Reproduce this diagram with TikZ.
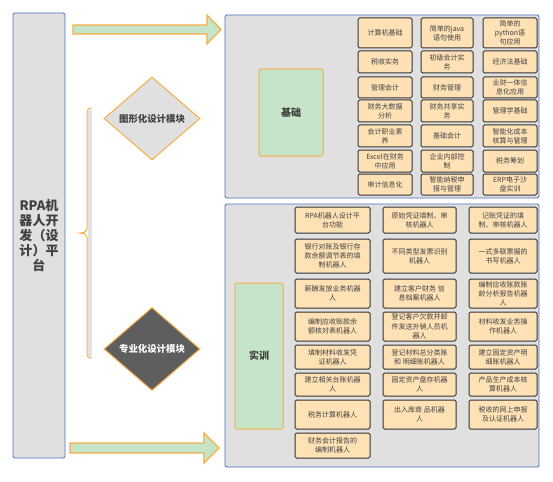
\documentclass[tikz,border=0pt]{standalone}
\usepackage{fontspec}
\setmainfont{Noto Sans CJK SC}
\usetikzlibrary{shapes.geometric}
\definecolor{panelgray}{HTML}{E0E0E0}
\definecolor{bluebd}{HTML}{4A72C0}
\definecolor{orangebd}{HTML}{F6AE45}
\definecolor{greenfill}{HTML}{C6E4C8}
\definecolor{peach}{HTML}{FFE1B6}
\definecolor{boxbd}{HTML}{333333}
\definecolor{txt}{HTML}{404040}
\definecolor{darkdia}{HTML}{5E5E5E}
\tikzset{
  cell/.style={draw=boxbd, fill=peach, rounded corners=1.5pt, line width=1pt,
    align=center, font=\fontsize{7}{9.2}\selectfont, text=txt, inner sep=0pt},
  panel/.style={draw=bluebd, fill=panelgray, rounded corners=1.5pt, line width=0.9pt, inner sep=0pt},
  greenbox/.style={draw=orangebd, fill=greenfill, rounded corners=1.5pt, line width=1pt,
    font=\fontsize{10}{12}\selectfont\bfseries, text=txt, inner sep=0pt},
  blockarrow/.style={draw=orangebd, fill=greenfill, line width=1.2pt, line join=miter},
  dia/.style={diamond, draw=orangebd, line width=1pt, inner sep=0pt, aspect=1.16,
    minimum width=96pt, minimum height=83pt, font=\fontsize{9.4}{11}\selectfont\bfseries}
}
\begin{document}
\begin{tikzpicture}[x=1pt,y=-1pt]
\useasboundingbox (0,0) rectangle (553,481);
% left box
\node[panel, minimum width=52pt, minimum height=445pt, align=center,
  font=\fontsize{13}{15}\selectfont\bfseries, text=txt] (platform) at (39,235.5)
  {RPA机\\器人开\\发（设\\计）平\\台};
% arrows
\draw[blockarrow] (73,25) -- (207,25) -- (207,15) -- (221,29.5) -- (207,44) -- (207,34) -- (73,34) -- cycle;
\draw[blockarrow] (70,443) -- (204,443) -- (204,433) -- (219,448) -- (204,463) -- (204,453) -- (70,453) -- cycle;
% brace
\fill[gray!22] (88,110) rectangle (92,356);
\draw[orangebd, line width=1pt] (92,108) .. controls (88.5,108) and (87,109.5) .. (87,113) -- (87,228)
  .. controls (87,231.5) and (84,233) .. (80,233) .. controls (84,233) and (87,234.5) .. (87,238)
  -- (87,353) .. controls (87,356.5) and (88.5,358) .. (92,358);
% diamonds
\node[dia, fill=panelgray, text=txt] (graphmod) at (152,118.5) {图形化设计模块};
\node[dia, fill=darkdia, text=white] (promod) at (152,349) {专业化设计模块};
% panels
\node[panel, minimum width=314pt, minimum height=183pt] (toppanel) at (382,106.5) {};
\node[panel, minimum width=314pt, minimum height=263pt] (botpanel) at (382,335.5) {};
\node[greenbox, minimum width=64pt, minimum height=87pt] (basic) at (291,112.5) {基础};
\node[greenbox, minimum width=48pt, minimum height=146pt] (train) at (259,356) {实训};
% top grid
\def\ca{385}\def\cb{447}\def\cc{510}
\def\wa{54pt}\def\wb{52pt}\def\wc{54pt}
\foreach \y/\h/\ta/\tb/\tc/\n in {
  33/30pt/计算机基础/简单的java\\语句使用/简单的\\python语\\句应用/1,
  62/22pt/税收实务/初级会计实\\务/经济法基础/2,
  87.5/21pt/管理会计/财务管理/业财一体信\\息化应用/3,
  111/22pt/财务大数据\\分析/财务共享实\\务/管理学基础/4,
  136/22pt/会计职业素\\养/基础会计/智能化成本\\核算与管理/5,
  161/22pt/Excel在财务\\中应用/企业内部控\\制/税务筹划/6,
  184.5/21pt/审计信息化/智能纳税申\\报与管理/ERP电子沙\\盘实训/7}{
  \node[cell, minimum width=\wa, minimum height=\h] (ta\n) at (\ca,\y) {\ta};
  \node[cell, minimum width=\wb, minimum height=\h] (tb\n) at (\cb,\y) {\tb};
  \node[cell, minimum width=\wc, minimum height=\h] (tc\n) at (\cc,\y) {\tc};
}
% bottom grid
\def\da{332.5}\def\db{419.5}\def\dc{503}
\def\va{75pt}\def\vb{73pt}\def\vc{68pt}
\foreach \y/\h/\ta/\tb/\tc/\n in {
  220/26pt/RPA机器人设计平\\台功能/原始凭证填制、审\\核机器人/记账凭证的填\\制、审核机器人/1,
  256/34pt/银行对账及银行存\\款余额调节表的填\\制机器人/不同类型发票识别\\机器人/一式多联票据的\\书写机器人/2,
  293.5/29pt/薪酬发放业务机器\\人/建立客户财务 信\\息档案机器人/编制应收账款账\\龄分析报告机器\\人/3,
  326.5/29pt/编制应收账款余\\额核对表机器人/登记客户欠款并邮\\件发送外销人员机\\器人/材料收发业务操\\作机器人/4,
  357/24pt/填制材料收发凭\\证机器人/登记材料总分类账\\和 明细账机器人/建立固定资产明\\细账机器人/5,
  384.5/23pt/建立相关台账机器\\人/固定资产盘存机器\\人/产品生产成本核\\算机器人/6,
  414.5/29pt/税务计算机器人/出入库商 品机器\\人/税收的网上申报\\及认证机器人/7}{
  \node[cell, minimum width=\va, minimum height=\h] (ba\n) at (\da,\y) {\ta};
  \node[cell, minimum width=\vb, minimum height=\h] (bb\n) at (\db,\y) {\tb};
  \node[cell, minimum width=\vc, minimum height=\h] (bc\n) at (\dc,\y) {\tc};
}
\node[cell, minimum width=\va, minimum height=25pt] (ba8) at (\da,445.5) {财务会计报告的\\编制机器人};
\end{tikzpicture}
\end{document}
